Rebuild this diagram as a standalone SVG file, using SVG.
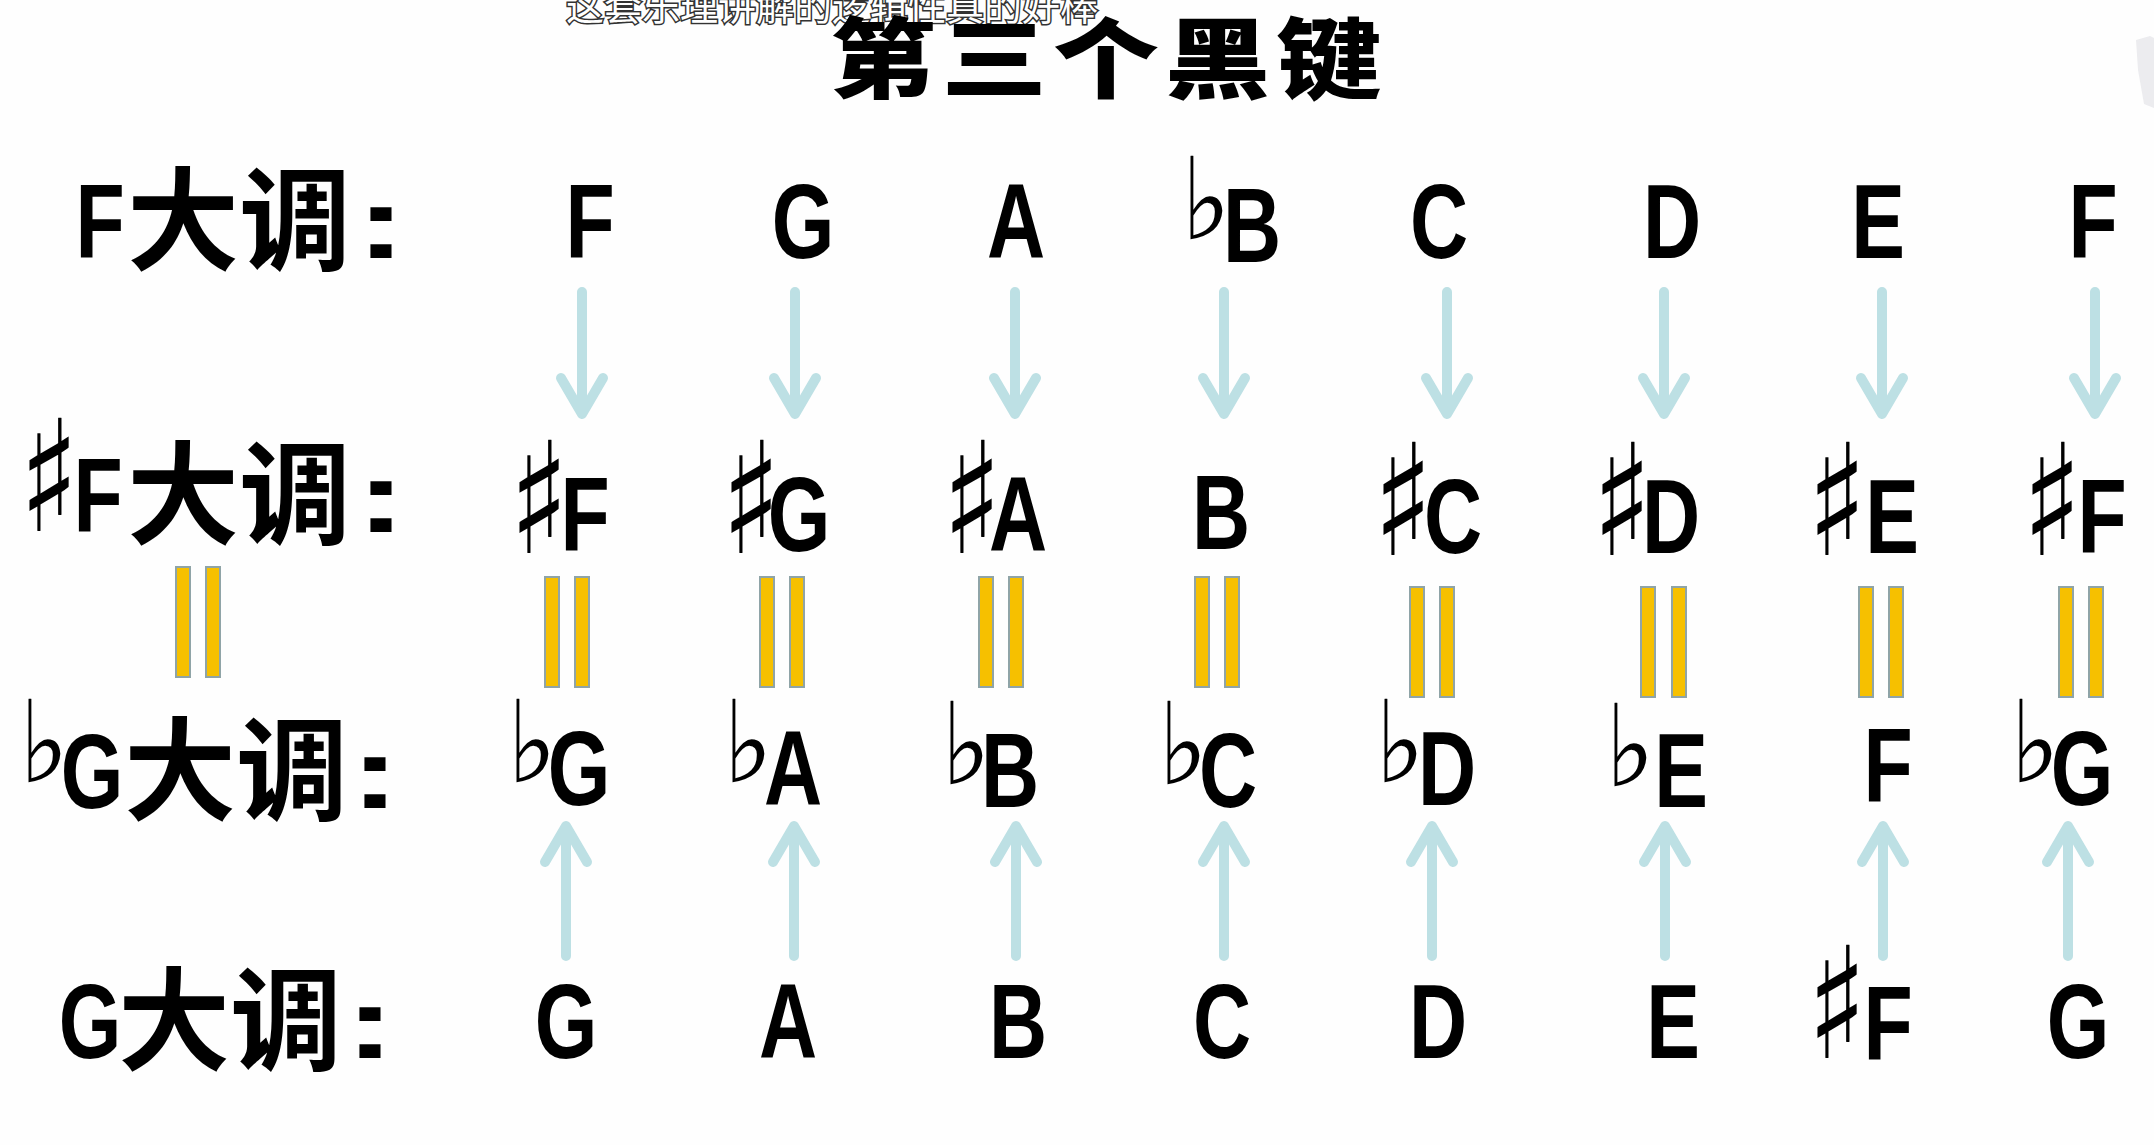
<svg xmlns="http://www.w3.org/2000/svg" width="2154" height="1145" viewBox="0 0 2154 1145">
<style>
.n{font-family:"Liberation Sans",Arial,sans-serif;font-weight:bold;font-size:106px;fill:#000;text-anchor:middle}
.sh{font-family:"DejaVu Sans",sans-serif;font-weight:bold;font-size:155px;fill:#000;text-anchor:middle}
.fl{font-family:"DejaVu Sans",sans-serif;font-size:114px;fill:#000;text-anchor:middle}
.cjk{font-family:"Noto Sans CJK SC",sans-serif;font-weight:bold;font-size:112px;fill:#000}
.col{font-family:"Liberation Sans",Arial,sans-serif;font-weight:bold;font-size:100px;fill:#000;text-anchor:middle}
.title{font-family:"Noto Sans CJK SC",sans-serif;font-weight:900;font-size:88px;fill:#000;text-anchor:middle;letter-spacing:5px}
.sub{font-family:"Noto Sans CJK SC",sans-serif;font-size:38px;fill:#fff;stroke:#333;stroke-width:3px;paint-order:stroke;text-anchor:middle}
.bar{fill:#f6c000;stroke:#8fa4a7;stroke-width:2}
.arr{stroke:#bde0e4;stroke-width:10;fill:none;stroke-linecap:round;stroke-linejoin:round}
</style>
<rect width="2154" height="1145" fill="#fefefe"/>
<path d="M2136 40 L2150 36 L2154 38 L2154 108 L2144 104 L2138 70 Z" fill="#ececef"/>
<g id="subtitle"><text class="sub" x="832" y="20">这套乐理讲解的逻辑性真的好棒</text></g>
<g id="title" transform="translate(1109,91) scale(1.2,1)"><text class="title" x="0" y="0">第三个黑键</text></g>

<g id="label-F">
<g transform="translate(100,258) scale(0.76,1)"><text class="n">F</text></g>
<text class="cjk" x="127" y="262">大调</text>
<g transform="translate(381,258) scale(1.5,1)"><text class="col">:</text></g>
</g>
<g id="label-Fsharp">
<g transform="translate(49,531) scale(0.8,1)"><text class="sh">♯</text></g>
<g transform="translate(98,532) scale(0.76,1)"><text class="n">F</text></g>
<text class="cjk" x="127" y="536">大调</text>
<g transform="translate(381,532) scale(1.5,1)"><text class="col">:</text></g>
</g>
<g id="label-Gflat">
<g transform="translate(44,782) scale(0.92,1)"><text class="fl">♭</text></g>
<g transform="translate(92,808) scale(0.76,1)"><text class="n">G</text></g>
<text class="cjk" x="124" y="812">大调</text>
<g transform="translate(375,808) scale(1.5,1)"><text class="col">:</text></g>
</g>
<g id="label-G">
<g transform="translate(90,1058) scale(0.76,1)"><text class="n">G</text></g>
<text class="cjk" x="118" y="1062">大调</text>
<g transform="translate(370,1058) scale(1.5,1)"><text class="col">:</text></g>
</g>

<g id="row-F">
<g transform="translate(590,258) scale(0.76,1)"><text class="n">F</text></g>
<g transform="translate(803,258) scale(0.76,1)"><text class="n">G</text></g>
<g transform="translate(1016,258) scale(0.76,1)"><text class="n">A</text></g>
<g transform="translate(1206,239) scale(0.92,1)"><text class="fl">♭</text></g>
<g transform="translate(1252,262) scale(0.76,1)"><text class="n">B</text></g>
<g transform="translate(1439,258) scale(0.76,1)"><text class="n">C</text></g>
<g transform="translate(1672,258) scale(0.76,1)"><text class="n">D</text></g>
<g transform="translate(1878,258) scale(0.76,1)"><text class="n">E</text></g>
<g transform="translate(2093,258) scale(0.76,1)"><text class="n">F</text></g>
</g>

<g id="row-Fsharp">
<g transform="translate(539,553) scale(0.8,1)"><text class="sh">♯</text></g>
<g transform="translate(585,551) scale(0.76,1)"><text class="n">F</text></g>
<g transform="translate(751,553) scale(0.8,1)"><text class="sh">♯</text></g>
<g transform="translate(799,551) scale(0.76,1)"><text class="n">G</text></g>
<g transform="translate(972,553) scale(0.8,1)"><text class="sh">♯</text></g>
<g transform="translate(1018,551) scale(0.76,1)"><text class="n">A</text></g>
<g transform="translate(1221,549) scale(0.76,1)"><text class="n">B</text></g>
<g transform="translate(1403,555) scale(0.8,1)"><text class="sh">♯</text></g>
<g transform="translate(1453,553) scale(0.76,1)"><text class="n">C</text></g>
<g transform="translate(1622,555) scale(0.8,1)"><text class="sh">♯</text></g>
<g transform="translate(1671,553) scale(0.76,1)"><text class="n">D</text></g>
<g transform="translate(1837,555) scale(0.8,1)"><text class="sh">♯</text></g>
<g transform="translate(1892,553) scale(0.76,1)"><text class="n">E</text></g>
<g transform="translate(2052,555) scale(0.8,1)"><text class="sh">♯</text></g>
<g transform="translate(2102,553) scale(0.76,1)"><text class="n">F</text></g>
</g>

<g id="row-Gflat">
<g transform="translate(532,782) scale(0.92,1)"><text class="fl">♭</text></g>
<g transform="translate(579,805) scale(0.76,1)"><text class="n">G</text></g>
<g transform="translate(748,782) scale(0.92,1)"><text class="fl">♭</text></g>
<g transform="translate(793,805) scale(0.76,1)"><text class="n">A</text></g>
<g transform="translate(966,784) scale(0.92,1)"><text class="fl">♭</text></g>
<g transform="translate(1010,807) scale(0.76,1)"><text class="n">B</text></g>
<g transform="translate(1183,784) scale(0.92,1)"><text class="fl">♭</text></g>
<g transform="translate(1228,807) scale(0.76,1)"><text class="n">C</text></g>
<g transform="translate(1400,782) scale(0.92,1)"><text class="fl">♭</text></g>
<g transform="translate(1447,805) scale(0.76,1)"><text class="n">D</text></g>
<g transform="translate(1630,786) scale(0.92,1)"><text class="fl">♭</text></g>
<g transform="translate(1681,807) scale(0.76,1)"><text class="n">E</text></g>
<g transform="translate(1888,802) scale(0.76,1)"><text class="n">F</text></g>
<g transform="translate(2035,782) scale(0.92,1)"><text class="fl">♭</text></g>
<g transform="translate(2082,805) scale(0.76,1)"><text class="n">G</text></g>
</g>

<g id="row-G">
<g transform="translate(566,1058) scale(0.76,1)"><text class="n">G</text></g>
<g transform="translate(788,1058) scale(0.76,1)"><text class="n">A</text></g>
<g transform="translate(1018,1058) scale(0.76,1)"><text class="n">B</text></g>
<g transform="translate(1222,1058) scale(0.76,1)"><text class="n">C</text></g>
<g transform="translate(1438,1058) scale(0.76,1)"><text class="n">D</text></g>
<g transform="translate(1673,1058) scale(0.76,1)"><text class="n">E</text></g>
<g transform="translate(1837,1058) scale(0.8,1)"><text class="sh">♯</text></g>
<g transform="translate(1888,1060) scale(0.76,1)"><text class="n">F</text></g>
<g transform="translate(2078,1058) scale(0.76,1)"><text class="n">G</text></g>
</g>

<g id="equals">
<rect class="bar" x="176" y="567" width="14" height="110"/><rect class="bar" x="206" y="567" width="14" height="110"/>
<rect class="bar" x="545" y="577" width="14" height="110"/><rect class="bar" x="575" y="577" width="14" height="110"/>
<rect class="bar" x="760" y="577" width="14" height="110"/><rect class="bar" x="790" y="577" width="14" height="110"/>
<rect class="bar" x="979" y="577" width="14" height="110"/><rect class="bar" x="1009" y="577" width="14" height="110"/>
<rect class="bar" x="1195" y="577" width="14" height="110"/><rect class="bar" x="1225" y="577" width="14" height="110"/>
<rect class="bar" x="1410" y="587" width="14" height="110"/><rect class="bar" x="1440" y="587" width="14" height="110"/>
<rect class="bar" x="1641" y="587" width="14" height="110"/><rect class="bar" x="1672" y="587" width="14" height="110"/>
<rect class="bar" x="1859" y="587" width="14" height="110"/><rect class="bar" x="1889" y="587" width="14" height="110"/>
<rect class="bar" x="2059" y="587" width="14" height="110"/><rect class="bar" x="2089" y="587" width="14" height="110"/>
</g>

<g id="connectors" class="arr">
<path d="M582 292V412M561 378L582 414L603 378"/>
<path d="M795 292V412M774 378L795 414L816 378"/>
<path d="M1015 292V412M994 378L1015 414L1036 378"/>
<path d="M1224 292V412M1203 378L1224 414L1245 378"/>
<path d="M1447 292V412M1426 378L1447 414L1468 378"/>
<path d="M1664 292V412M1643 378L1664 414L1685 378"/>
<path d="M1882 292V412M1861 378L1882 414L1903 378"/>
<path d="M2095 292V412M2074 378L2095 414L2116 378"/>
<path d="M566 956V828M545 862L566 826L587 862"/>
<path d="M794 956V828M773 862L794 826L815 862"/>
<path d="M1016 956V828M995 862L1016 826L1037 862"/>
<path d="M1224 956V828M1203 862L1224 826L1245 862"/>
<path d="M1432 956V828M1411 862L1432 826L1453 862"/>
<path d="M1665 956V828M1644 862L1665 826L1686 862"/>
<path d="M1883 956V828M1862 862L1883 826L1904 862"/>
<path d="M2068 956V828M2047 862L2068 826L2089 862"/>
</g>
</svg>
